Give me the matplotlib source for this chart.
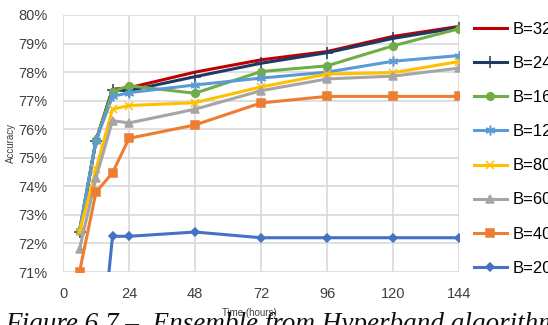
import numpy as np
import matplotlib.pyplot as plt
from matplotlib.ticker import FuncFormatter

hours = [6, 12, 18, 24, 48, 72, 96, 120, 144]
labels = ['B=320', 'B=240', 'B=160', 'B=120', 'B=80', 'B=60', 'B=40', 'B=20']

acc_320 = [72.4, 75.6, 77.4, 77.45, 78.0, 78.43, 78.72, 79.25, 79.6]
acc_240 = [72.4, 75.6, 77.38, 77.35, 77.84, 78.31, 78.68, 79.18, 79.56]
acc_160 = [72.45, 75.63, 77.32, 77.52, 77.26, 78.02, 78.22, 78.92, 79.52]
acc_120 = [72.45, 75.6, 77.15, 77.28, 77.55, 77.79, 78.0, 78.38, 78.58]
acc_80 = [72.4, 74.6, 76.7, 76.83, 76.93, 77.48, 77.93, 77.98, 78.37]
acc_60 = [71.8, 74.3, 76.3, 76.22, 76.7, 77.35, 77.76, 77.86, 78.14]
acc_40 = [71.0, 73.8, 74.47, 75.68, 76.15, 76.92, 77.15, 77.15, 77.15]
acc_20 = [np.nan, 66.4, 72.25, 72.25, 72.4, 72.2, 72.2, 72.2, 72.2]

series = [acc_320, acc_240, acc_160, acc_120, acc_80, acc_60, acc_40, acc_20]
colors = ['#C00000', '#203864', '#70AD47', '#5B9BD5', '#FFC000', '#A5A5A5', '#ED7D31', '#4472C4']
markers = [None, '+', 'o', (6, 2, 0), 'x', '^', 's', 'D']
msizes = [0, 8, 5.5, 7, 6, 5.5, 5.5, 4.5]

fig = plt.figure(figsize=(5.48, 3.25), dpi=100)
ax = fig.add_axes([63/548, 1-272/325, (459-63)/548, (272-15)/325])

for i, (vals, lab) in enumerate(zip(series, labels)):
    ax.plot(hours, vals, color=colors[i], marker=markers[i], markersize=msizes[i],
            markeredgewidth=1.1, linewidth=2.2, label=lab, zorder=3+i)

ax.set_xlim(0, 144)
ax.set_ylim(71, 80)
ax.set_xticks(range(0, 145, 24))
ax.set_yticks(range(71, 81))
ax.yaxis.set_major_formatter(FuncFormatter(lambda v, p: '%d%%' % v))
ax.grid(True, color='#D9D9D9', linewidth=1.2)
ax.set_axisbelow(True)
for s in ax.spines.values():
    s.set_visible(False)
ax.tick_params(length=0, labelsize=10.5, labelcolor='#404040')
ax.tick_params(axis='y', pad=11)
ax.tick_params(axis='x', pad=11)
for t in ax.get_xticklabels() + ax.get_yticklabels():
    t.set_family('Liberation Sans')

leg = ax.legend(loc='upper left', bbox_to_anchor=(1.02, 1.0), frameon=False,
                labelspacing=1.15, handlelength=2.0, handletextpad=0.35,
                borderaxespad=0, prop={'family': 'Liberation Sans', 'size': 12})

fig.text(249/548, 1-313/325, 'Time (hours)', ha='center', va='center',
         fontsize=7, color='#404040', family='Liberation Sans')
fig.text(11/548, 1-143/325, 'Accuracy', ha='center', va='center', rotation=90,
         fontsize=7, color='#404040', family='Liberation Sans')
fig.text(5/548, -6/325, 'Figure 6.7 \u2013  Ensemble from Hyperband algorithm',
         ha='left', va='baseline', fontsize=19.5, style='italic',
         family='Liberation Serif', color='#111111')

fig.savefig('out.png', dpi=100)
